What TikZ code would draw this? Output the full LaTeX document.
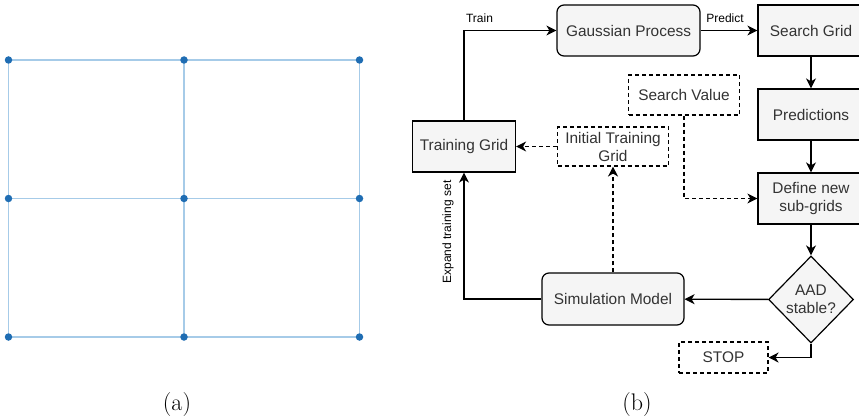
\documentclass[tikz,border=0pt]{standalone}
\usepackage{fontspec}
\newfontfamily\diagfont{Liberation Sans}
\usetikzlibrary{arrows.meta,shapes.geometric}
\definecolor{boxfill}{HTML}{F5F5F5}
\definecolor{boxtext}{HTML}{333333}
\definecolor{gridline}{HTML}{A6CBE8}
\definecolor{griddot}{HTML}{1F6DB3}
\begin{document}
\begin{tikzpicture}[x=1pt,y=-1pt,
  every node/.style={inner sep=0pt},
  mainfont/.style={font=\diagfont\fontsize{15.4}{18}\selectfont},
  lblfont/.style={font=\diagfont\fontsize{12}{14}\selectfont},
  box/.style={draw, line width=1.2pt, fill=boxfill, text=boxtext, align=center, mainfont},
  dbox/.style={draw, line width=1.1pt, dash pattern=on 4pt off 3pt, fill=white, text=boxtext, align=center, mainfont},
  conn/.style={line width=1.4pt, -{Stealth[length=10pt,width=10pt,inset=3pt]}},
  dconn/.style={conn, dash pattern=on 4pt off 3pt},
  gline/.style={draw=gridline, line width=1.1pt},
  gdot/.style={circle, fill=griddot, minimum size=7.5pt},
  captxt/.style={font=\fontsize{24}{28}\selectfont}]
\useasboundingbox (0,0) rectangle (859,420);
% panel (a)
\foreach \y [count=\j] in {60,198.5,337} {
  \foreach \x [count=\i] in {8.5,184,359.5} {
    \coordinate (g\i\j) at (\x,\y);
  }
}
\foreach \j in {1,2,3} { \draw[gline] (g1\j) -- (g3\j); }
\foreach \i in {1,2,3} { \draw[gline] (g\i1) -- (g\i3); }
\foreach \i in {1,2,3} { \foreach \j in {1,2,3} { \node[gdot] (d\i\j) at (g\i\j) {}; } }
\node[captxt, anchor=base] (capa) at (177,410) {(a)};
% panel (b)
\node[box, rounded corners=7pt, minimum width=143pt, minimum height=51pt] (gp) at (628.5,30.5) {Gaussian Process};
\node[box, minimum width=106pt, minimum height=51pt] (sg) at (811,30.5) {Search Grid};
\node[box, minimum width=106pt, minimum height=51pt] (pred) at (811,114.5) {Predictions};
\node[box, minimum width=106pt, minimum height=51pt] (def) at (811,198.5) {Define new\\sub-grids};
\node[diamond, draw, line width=1.2pt, fill=boxfill, minimum width=85pt, minimum height=87pt, aspect=1] (aad) at (811,299.5) {};
\node[mainfont, text=boxtext, align=center] (aadt) at (aad) {AAD\\stable?};
\node[dbox, minimum width=89pt, minimum height=31pt] (stop) at (723.5,357.5) {STOP};
\node[box, rounded corners=7pt, minimum width=142pt, minimum height=52pt] (sim) at (613,299) {Simulation Model};
\node[box, minimum width=103pt, minimum height=51pt] (tg) at (464,146.5) {Training Grid};
\node[dbox, minimum width=111pt, minimum height=39pt] (itg) at (613,146.5) {Initial Training\\Grid};
\node[dbox, minimum width=111pt, minimum height=40pt] (sv) at (684,95) {Search Value};
\draw[conn] (tg.north) |- (gp.west);
\node[lblfont, anchor=base] (trainlbl) at (479.5,23) {Train};
\draw[conn] (gp) -- (sg);
\node[lblfont, anchor=base] (predlbl) at (725,23) {Predict};
\draw[conn] (sg) -- (pred);
\draw[conn] (pred) -- (def);
\draw[conn] (def) -- (aad);
\draw[conn] (aad) -- (sim);
\draw[conn] (aad.south) |- (stop.east);
\draw[conn] (sim.west) -| (tg.south);
\node[lblfont, rotate=90] (explbl) at (448,232) {Expand training set};
\draw[dconn] (sim) -- (itg);
\draw[dconn] (itg) -- (tg);
\draw[dconn] (sv.south) |- (def.west);
\node[captxt, anchor=base] (capb) at (637,410) {(b)};
\end{tikzpicture}
\end{document}
